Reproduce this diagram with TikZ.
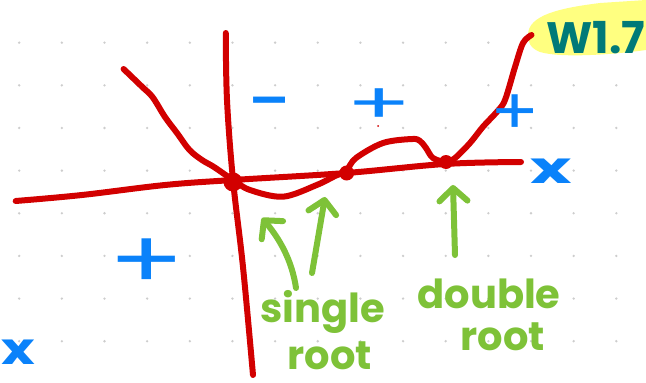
\documentclass[tikz,border=0pt]{standalone}
\usepackage{fontspec}
\setmainfont{Poppins}
\usetikzlibrary{arrows.meta}
\definecolor{inkred}{RGB}{210,0,0}
\definecolor{inkblue}{RGB}{10,130,250}
\definecolor{inkgreen}{RGB}{126,194,56}
\definecolor{inkteal}{RGB}{0,122,120}
\definecolor{marker}{RGB}{255,255,128}
\definecolor{griddot}{RGB}{205,205,205}
\tikzset{
  redink/.style={draw=inkred, line width=6pt, line cap=round, line join=round},
  greenarrow/.style={draw=inkgreen, line width=6pt, line cap=round,
    -{Straight Barb[length=13pt,width=28pt,round]}},
  rootdot/.style={circle, fill=inkred, inner sep=0pt, minimum size=#1},
  sign/.style={text=inkblue, inner sep=0pt, font=\fontsize{80}{80}\selectfont},
  xsign/.style={text=inkblue, inner sep=0pt, font=\fontsize{44}{44}\selectfont\bfseries},
  label/.style={text=inkgreen, inner sep=0pt, anchor=base, font=\fontsize{40}{40}\selectfont\bfseries},
}
\begin{document}
\begin{tikzpicture}[x=1pt, y=-1pt]
\useasboundingbox (0,0) rectangle (646,383);
\fill[white] (0,0) rectangle (646,383);
% dotted paper
\foreach \i in {0,...,14}
  \foreach \j in {1,...,8}
    \fill[griddot] (19.2+42.65*\i, 42.65*\j) circle (1.3);
% highlighter behind the page tag
\fill[marker] (528,35) .. controls (528,15) and (560,8) .. (600,3) -- (646,0) -- (646,50)
  .. controls (610,55) and (560,58) .. (540,52) .. controls (530,48) and (528,42) .. (528,35) -- cycle;
\node[text=inkteal, inner sep=0pt, anchor=base, font=\fontsize{44}{44}\selectfont\bfseries] (tag) at (596,53) {W1.7};
% axes
\draw[redink] plot[smooth, tension=0.6] coordinates {(15.7,201) (82,195) (165,185) (233,180) (346,173) (445,164) (521,162)};
\draw[redink] plot[smooth, tension=0.6] coordinates {(225.8,33) (227,100) (233,180) (243,267) (253,375)};
% the polynomial
\draw[redink] plot[smooth, tension=0.55] coordinates {
  (123.6,69) (142,86.7) (152.5,97) (165,117) (177,133) (189.5,150) (202,160) (214,167)
  (233,180) (250,190) (283,196.7) (316.7,185) (335,176) (346,171) (356,158) (383,143)
  (412,139) (420,141) (426,148) (433,158) (446,162) (455,158) (470,143) (483,126.7)
  (497,111.7) (505,100) (515,67) (523,43) (531.5,35)};
\fill[inkred] (378,126) circle (1);
% roots
\node[rootdot=19pt] (r0) at (233,182) {};
\node[rootdot=15pt] (r1) at (346.7,173) {};
\node[rootdot=14pt] (r2) at (446,162) {};
% signs of the function
\node[sign] (m1) at (270,113) {−};
\node[sign, xscale=1.2, yscale=0.7] (p1) at (379,106) {+};
\node[sign, xscale=0.9, yscale=0.8] (p2) at (515,115) {+};
\node[sign, xscale=1.4] (p3) at (147,264) {+};
\node[xsign, xscale=1.6] (xr) at (551,171) {x};
\node[xsign, xscale=1.3] (xl) at (18,352) {x};
% labels
\node[label] (single) at (323,322) {single};
\node[label] (root1) at (330,369) {root};
\node[label] (double) at (489,308) {double};
\node[label] (root2) at (503,350) {root};
% pointers to the roots
\coordinate (a1s) at (296,288);
\coordinate (a1e) at (262,218);
\coordinate (a2s) at (312,273);
\coordinate (a2e) at (325,197);
\coordinate (a3s) at (455,255);
\coordinate (a3e) at (453,185);
\draw[greenarrow] (a1s) .. controls (292,260) and (279,238) .. (a1e);
\draw[greenarrow] (a2s) -- (a2e);
\draw[greenarrow] (a3s) -- (a3e);
\end{tikzpicture}
\end{document}
